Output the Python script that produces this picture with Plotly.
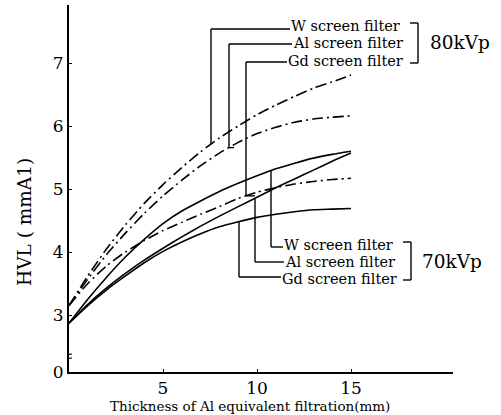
import numpy as np
import plotly.graph_objects as go

# ---------------- data ----------------
thickness = [0, 1, 2, 3, 4, 5, 6, 7, 8, 9, 10, 11, 12, 13, 14, 15]

w_80 = [3.15, 3.62, 4.05, 4.43, 4.77, 5.07, 5.34, 5.59, 5.81, 6.00, 6.18, 6.33, 6.47, 6.60, 6.70, 6.81]
al_80 = [3.15, 3.57, 3.96, 4.30, 4.61, 4.89, 5.14, 5.37, 5.57, 5.74, 5.88, 5.98, 6.06, 6.11, 6.14, 6.16]
gd_80 = [3.15, 3.50, 3.78, 4.00, 4.18, 4.34, 4.47, 4.60, 4.72, 4.85, 4.95, 5.02, 5.08, 5.12, 5.15, 5.17]

w_70 = [2.87, 3.25, 3.60, 3.92, 4.20, 4.45, 4.65, 4.81, 4.96, 5.09, 5.21, 5.32, 5.41, 5.49, 5.55, 5.60]
al_70 = [2.87, 3.17, 3.43, 3.66, 3.87, 4.06, 4.24, 4.41, 4.57, 4.72, 4.87, 5.02, 5.16, 5.30, 5.44, 5.57]
gd_70 = [2.87, 3.15, 3.40, 3.62, 3.83, 4.01, 4.16, 4.29, 4.40, 4.48, 4.55, 4.60, 4.64, 4.67, 4.68, 4.69]

x_ticks = [5, 10, 15]
y_tick_vals = [2.095, 3, 4, 5, 6, 7]
y_tick_text = ["0", "3", "4", "5", "6", "7"]
filter_labels = ["W screen filter", "Al screen filter", "Gd screen filter"]
kvp_labels = ["80kVp", "70kVp"]

# ---------------- layout helpers (pixel -> data / paper) ----------------
X0, SX = 69.0, 18.8      # px of x=0, px per mm
Y3, SY = 315.0, 63.0     # px of y=3, px per mmAl
PL, PR, PT, PB = 69, 453, 5, 372


def dx(px):
    return (px - X0) / SX


def dy(py):
    return 3 + (Y3 - py) / SY


def qx(px):
    return (px - PL) / (PR - PL)


def qy(py):
    return (PB - py) / (PB - PT)


SERIF = "DejaVu Serif, Liberation Serif, serif"
DASHDOT = "11px,4px,2px,4px"

fig = go.Figure()

series = [
    (w_80, DASHDOT), (al_80, DASHDOT), (gd_80, DASHDOT),
    (w_70, "solid"), (al_70, "solid"), (gd_70, "solid"),
]
for vals, dash in series:
    fig.add_trace(go.Scatter(
        x=thickness, y=vals, mode="lines",
        line=dict(color="black", width=1.6, dash=dash, shape="spline", smoothing=0.6),
        showlegend=False, hoverinfo="skip"))

shapes = []
annotations = []


def seg(x0, y0, x1, y1, w=1.4):
    shapes.append(dict(type="line", xref="x", yref="y", x0=x0, y0=y0, x1=x1, y1=y1,
                       line=dict(color="black", width=w), layer="above"))


def curve_at(vals, x):
    return float(np.interp(x, thickness, vals))


# --- 80 kVp leaders ---
lead80 = [(211, 29, w_80), (229, 44, al_80), (246, 62, gd_80)]
text80_x = [290, 292, 287]
for (px, py, vals), tx in zip(lead80, text80_x):
    xv = dx(px)
    yc = curve_at(vals, xv)
    seg(xv, dy(py), xv, yc)
    seg(xv, dy(py), dx(tx), dy(py))
seg(dx(229), curve_at(al_80, dx(229)), dx(234), curve_at(al_80, dx(229)))
seg(dx(246), curve_at(gd_80, dx(246)), dx(255), curve_at(gd_80, dx(246)))

# --- 70 kVp leaders ---
lead70 = [(271, 247, w_70), (255, 262, al_70), (239, 277, gd_70)]
text70_x = [283, 284, 281]
for (px, py, vals), tx in zip(lead70, text70_x):
    xv = dx(px)
    yc = curve_at(vals, xv)
    seg(xv, yc, xv, dy(py))
    seg(xv, dy(py), dx(tx), dy(py))

# --- legend texts ---
LEG = dict(family=SERIF, size=14.5, color="black")
rows80 = [26, 43, 61]
for lab, tx, ry in zip(filter_labels, text80_x, rows80):
    annotations.append(dict(x=qx(tx), y=qy(ry), xref="paper", yref="paper", text=lab,
                            showarrow=False, xanchor="left", yanchor="middle", borderpad=0,
                            font=LEG))
rows70 = [245, 262, 279]
for lab, tx, ry in zip(filter_labels, text70_x, rows70):
    annotations.append(dict(x=qx(tx), y=qy(ry), xref="paper", yref="paper", text=lab,
                            showarrow=False, xanchor="left", yanchor="middle", borderpad=0,
                            font=LEG))

# brackets
seg(dx(418), dy(23), dx(418), dy(63))
seg(dx(410), dy(23), dx(418), dy(23))
seg(dx(410), dy(63), dx(418), dy(63))
seg(dx(411), dy(242), dx(411), dy(280))
seg(dx(403), dy(242), dx(411), dy(242))
seg(dx(403), dy(280), dx(411), dy(280))

KV = dict(family=SERIF, size=18.5, color="black")
annotations.append(dict(x=qx(428), y=qy(43), xref="paper", yref="paper", text=kvp_labels[0],
                        showarrow=False, xanchor="left", yanchor="middle", font=KV))
annotations.append(dict(x=qx(420), y=qy(261), xref="paper", yref="paper", text=kvp_labels[1],
                        showarrow=False, xanchor="left", yanchor="middle", font=KV))

# axis titles
annotations.append(dict(x=qx(25), y=qy(222), xref="paper", yref="paper", text="HVL ( mmA1)",
                        showarrow=False, textangle=-90, xanchor="center", yanchor="middle",
                        font=dict(family=SERIF, size=18.5, color="black")))
annotations.append(dict(x=qx(250), y=qy(415), xref="paper", yref="paper",
                        text="Thickness of Al equivalent filtration(mm)",
                        showarrow=False, xanchor="center", yanchor="bottom", borderpad=0,
                        font=dict(family=SERIF, size=13.5, color="black")))

# axis break mark on y axis
shapes.append(dict(type="rect", xref="x", yref="y", x0=dx(66), x1=dx(72), y0=dy(359), y1=dy(355),
                   fillcolor="white", line=dict(width=0), layer="above"))
seg(dx(64), dy(355), dx(72), dy(354), w=1.2)
seg(dx(64), dy(359), dx(72), dy(358), w=1.2)

TICKF = dict(family=SERIF, size=17, color="black")
fig.update_layout(
    width=501, height=415,
    margin=dict(l=PL, r=501 - PR, t=PT, b=415 - PB, autoexpand=False),
    paper_bgcolor="white", plot_bgcolor="white",
    shapes=shapes, annotations=annotations,
    xaxis=dict(range=[0, dx(PR)], tickvals=x_ticks, ticktext=[str(v) for v in x_ticks],
               showline=True, linecolor="black", linewidth=2, showgrid=False, zeroline=False,
               ticks="inside", ticklen=3, tickcolor="black", tickfont=TICKF, automargin=False),
    yaxis=dict(range=[dy(PB), dy(PT)], tickvals=y_tick_vals, ticktext=y_tick_text,
               showline=True, linecolor="black", linewidth=2, showgrid=False, zeroline=False,
               ticks="inside", ticklen=3, tickcolor="black", tickfont=TICKF, automargin=False),
)

fig.write_html("out.html", config={"displayModeBar": False},
               post_script="document.body.style.margin='0';document.body.style.padding='0';")
